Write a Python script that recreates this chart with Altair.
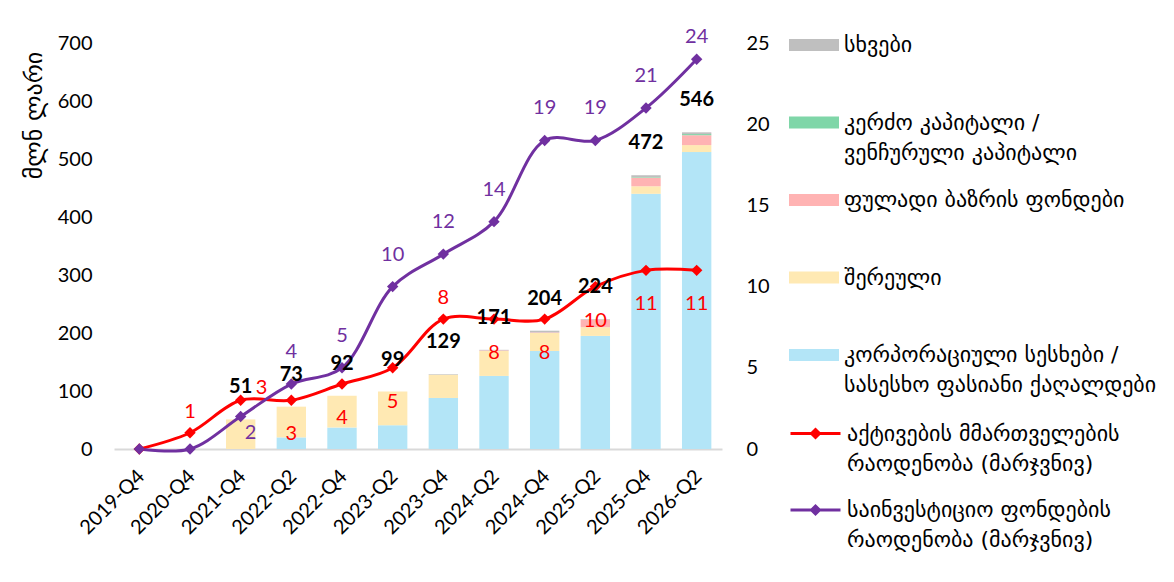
import altair as alt
import pandas as pd

# ---------------- data ----------------
periods = ["2019-Q4", "2020-Q4", "2021-Q4", "2022-Q2", "2022-Q4", "2023-Q2",
           "2023-Q4", "2024-Q2", "2024-Q4", "2025-Q2", "2025-Q4", "2026-Q2"]

corporate = [0, 0, 0, 20, 37, 41, 88, 126, 169, 195, 440, 512]
mixed = [0, 0, 51, 53, 55, 58, 40, 43, 31, 15, 13, 12]
money_market = [0, 0, 0, 0, 0, 0, 0, 1, 1, 13, 15, 17]
private_equity = [0, 0, 0, 0, 0, 0, 0, 0, 0, 0, 1, 2]
other = [0, 0, 0, 0, 0, 0, 1, 1, 3, 1, 3, 3]

managers = [0, 1, 3, 3, 4, 5, 8, 8, 8, 10, 11, 11]
funds = [0, 0, 2, 4, 5, 10, 12, 14, 19, 19, 21, 24]

cat_names = ["სხვები",
             "კერძო კაპიტალი / ვენჩურული კაპიტალი",
             "ფულადი ბაზრის ფონდები",
             "შერეული",
             "კორპორაციული სესხები / სასესხო ფასიანი ქაღალდები"]
cat_colors = ["#BFBFBF", "#7FD6A8", "#FFB3B3", "#FFE9B3", "#B3E5F7"]

series_names = ["აქტივების მმართველების რაოდენობა (მარჯვნივ)",
                "საინვესტიციო ფონდების რაოდენობა (მარჯვნივ)"]
series_colors = ["#FF0000", "#7030A0"]

y_title = "მლნ ლარი"

# ---------------- tables ----------------
stack_values = [corporate, mixed, money_market, private_equity, other]
stack_names = [cat_names[4], cat_names[3], cat_names[2], cat_names[1], cat_names[0]]
rows = []
for k, (name, vals) in enumerate(zip(stack_names, stack_values)):
    for p, v in zip(periods, vals):
        rows.append({"period": p, "cat": name, "value": v, "stack": k})
bar_df = pd.DataFrame(rows)

lrows = []
for name, vals in zip(series_names, [managers, funds]):
    for p, v in zip(periods, vals):
        lrows.append({"period": p, "series": name, "count": v})
line_df = pd.DataFrame(lrows)

NUM_FONT = "Lato"
GEO_FONT = "DejaVu Sans"
GEO_SIZE = 22

x_enc = alt.X("period:N", sort=periods,
              scale=alt.Scale(domain=periods, paddingInner=0.42, paddingOuter=0.21),
              axis=alt.Axis(title=None, labelAngle=-45, labelAlign="right",
                            labelBaseline="top", labelOffset=-5, labelPadding=17,
                            ticks=False, domainColor="#D9D9D9", domainWidth=2,
                            labelFont=NUM_FONT, labelFontSize=20, labelColor="black",
                            grid=False))

left_axis = alt.Axis(title=y_title, values=list(range(0, 701, 100)), ticks=False,
                     domain=False, grid=False, labelPadding=22, labelFont=NUM_FONT,
                     labelFontSize=20, labelColor="black", titleFont=GEO_FONT,
                     titleFontSize=24, titleFontWeight="normal", titleColor="black",
                     titleX=-80, titleY=72, titleAngle=270, titleAlign="center",
                     titleBaseline="middle")
right_axis = alt.Axis(title=None, orient="right", values=list(range(0, 26, 5)),
                      ticks=False, domain=False, grid=False, labelPadding=24,
                      labelFont=NUM_FONT, labelFontSize=20, labelColor="black")

left_scale = alt.Scale(domain=[0, 700])
right_scale = alt.Scale(domain=[0, 25])

rect_sym = "M-1,-0.24H1V0.24H-1Z"
line_sym = "M-1,0H1M-0.16,0L0,-0.16L0.16,0L0,0.16ZM0,-0.12V0.12"

LEG_X = 675
LEG_Y = -23
ROW_PAD = 11.5
LINE_LEG_Y = 364
LINE_ROW_PAD = 8.5

bars = alt.Chart(bar_df).mark_bar().encode(
    x=x_enc,
    y=alt.Y("value:Q", stack="zero", scale=left_scale, axis=left_axis),
    fill=alt.Fill("cat:N", scale=alt.Scale(domain=cat_names, range=cat_colors),
                  legend=alt.Legend(title=None, orient="none", legendX=LEG_X, legendY=LEG_Y,
                                    symbolType=rect_sym, symbolSize=2500,
                                    symbolStrokeWidth=0, labelFont=GEO_FONT,
                                    labelFontSize=GEO_SIZE, labelColor="black",
                                    labelBaseline="middle", labelOffset=5, labelLimit=420,
                                    rowPadding=ROW_PAD, padding=0,
                                    labelExpr="indexof(datum.label, ' / ') >= 0 ? split(replace(datum.label, ' / ', ' /|'), '|') : [datum.label, ' ']")),
    order=alt.Order("stack:Q", sort="ascending"),
)

totals = alt.Chart(bar_df).transform_aggregate(
    total="sum(value)", groupby=["period"]
).transform_filter(alt.datum.total > 0).mark_text(
    dy=-32, font=NUM_FONT, fontSize=20, fontWeight="bold", color="black"
).encode(
    x=x_enc,
    y=alt.Y("total:Q", scale=left_scale, axis=None),
    text="total:Q",
)

y_right = alt.Y("count:Q", scale=right_scale, axis=right_axis)

lines = alt.Chart(line_df).mark_line(interpolate="catmull-rom", strokeWidth=3).encode(
    x=x_enc, y=y_right,
    stroke=alt.Stroke("series:N", scale=alt.Scale(domain=series_names, range=series_colors),
                      legend=alt.Legend(title=None, orient="none", legendX=LEG_X,
                                        legendY=LINE_LEG_Y,
                                        symbolType=line_sym, symbolSize=2500,
                                        symbolStrokeWidth=3, labelFont=GEO_FONT,
                                        labelFontSize=GEO_SIZE, labelColor="black",
                                        labelBaseline="middle", labelOffset=5, labelLimit=420,
                                        rowPadding=LINE_ROW_PAD, padding=0,
                                        labelExpr="split(replace(datum.label, ' რაოდენობა', '|რაოდენობა'), '|')")),
)

points = alt.Chart(line_df).mark_point(shape="diamond", filled=True, size=130, opacity=1).encode(
    x=x_enc, y=y_right,
    color=alt.Color("series:N", scale=alt.Scale(domain=series_names, range=series_colors),
                    legend=None),
)


def num_labels(series_idx, cats, dx, dy):
    return alt.Chart(line_df).transform_filter(
        alt.datum.series == series_names[series_idx]
    ).transform_filter(
        alt.FieldOneOfPredicate(field="period", oneOf=cats)
    ).transform_filter(alt.datum.count > 0).mark_text(
        dx=dx, dy=dy, font=NUM_FONT, fontSize=20, color=series_colors[series_idx]
    ).encode(x=x_enc, y=y_right, text="count:Q")


red_above = num_labels(0, ["2020-Q4", "2023-Q4"], 0, -21)
red_right = num_labels(0, ["2021-Q4"], 21, -12)
red_below = num_labels(0, ["2022-Q2", "2022-Q4", "2023-Q2", "2024-Q2", "2024-Q4",
                           "2025-Q2", "2025-Q4", "2026-Q2"], 0, 34)
pur_above = num_labels(1, ["2022-Q2", "2022-Q4", "2023-Q2", "2023-Q4", "2024-Q2",
                           "2024-Q4", "2025-Q2", "2025-Q4"], 0, -32)
pur_top = num_labels(1, ["2026-Q2"], 0, -22)
pur_side = num_labels(1, ["2021-Q4"], 10, 16)

line_group = alt.layer(lines, points, red_above, red_right, red_below,
                       pur_above, pur_top, pur_side)

chart = alt.layer(bars, line_group, totals).resolve_scale(
    y="independent"
).properties(
    width=608, height=406,
    padding={"left": 106, "top": 35, "right": 444, "bottom": 125},
    autosize=alt.AutoSizeParams(type="none"),
    background="white",
).configure(
    style={"guide-label": {"lineHeight": 30}}
).configure_view(strokeWidth=0)

chart.save("out.html", embed_options={"renderer": "svg", "actions": False})
